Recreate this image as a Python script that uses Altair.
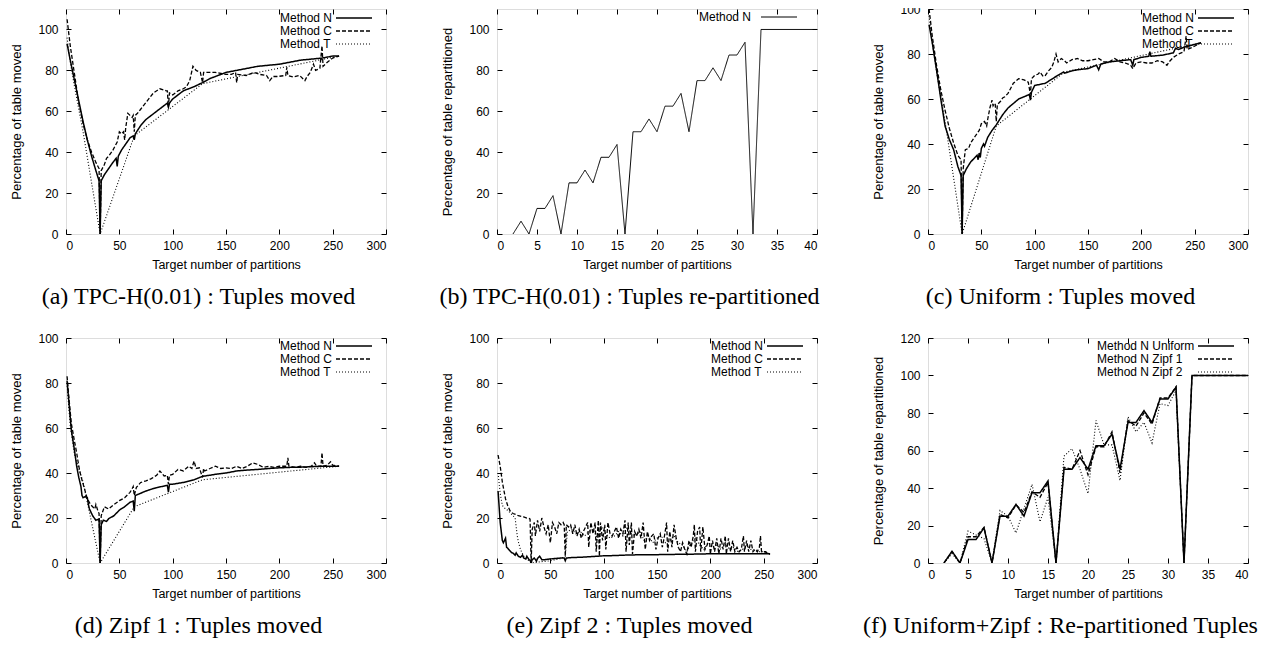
import altair as alt
import pandas as pd

# ---------------- data ----------------
# (a) TPC-H(0.01) : Tuples moved
A_N = [(1,93),(4,85),(8,75),(12,65),(16,55),(20,46),(24,38),(28,31),(31,26),(32,0),(33,26),
       (36,29),(40,32),(44,35),(47,37),(48,33),(49,38),(52,41),(56,44),(60,47),(63,48),(64,46),
       (65,49),(70,53),(75,56),(80,58),(85,60),(90,62),(95,64),(96,62),(97,64),(100,66),(105,68),
       (110,70),(115,71),(120,72),(128,74),(135,76),(140,77),(150,79),(160,80),(170,81),(180,82),
       (190,82.5),(200,83),(210,84),(220,85),(230,85.5),(240,86),(250,87),(256,87)]
A_C = [(1,105),(4,92),(8,78),(12,64),(16,54),(20,46),(24,40),(28,35),(31,32),(32,0),(33,31),
       (36,34),(38,37),(40,38),(44,41),(48,45),(50,50),(52,49),(54,50),(55,46),(56,52),(58,59),
       (60,58),(62,57),(63,58),(64,50),(65,58),(67,59),(70,61),(76,65),(82,69),(88,71),(94,70),
       (95,70),(96,62),(97,69),(100,68),(105,70),(110,71),(113,72),(116,75),(119,82),(122,80),
       (126,79),(128,74),(129,79),(135,79),(140,79),(150,78),(155,78),(159,79),(160,74),(161,78),
       (169,77.5),(176,79),(182,78),(188,77.5),(191,75),(194,77),(198,77),(206,77.5),(207,81.5),
       (208,77.5),(213,76.7),(219,77.5),(224,75),(226,77),(229,79),(232,83),(234,80),(238,81),
       (240,92),(241,82),(245,84),(250,86),(256,87)]
A_T = [(1,96),(2,92),(4,84),(8,72),(16,50),(32,0),(64,48),(128,73.5),(256,87)]

# (b) TPC-H(0.01) : Tuples re-partitioned
B_N = [(2,0),(3,6.25),(4,0),(5,12.5),(6,12.5),(7,18.75),(8,0),(9,25),(10,25),(11,31.25),(12,25),
       (13,37.5),(14,37.5),(15,43.75),(16,0),(17,50),(18,50),(19,56.25),(20,50),(21,62.5),(22,62.5),
       (23,68.75),(24,50),(25,75),(26,75),(27,81.25),(28,75),(29,87.5),(30,87.5),(31,93.75),(32,0),
       (33,100),(40,100)]

# (c) Uniform : Tuples moved
C_N = [(1,93),(4,85),(8,73),(12,60),(16,48),(20,42),(24,37.5),(28,30),(31,26),(32,0),(33,26),
       (36,29),(40,32),(44,34),(46,35),(47,33),(48,36),(49,34),(50,38),(52,40),(53,39),(56,43),
       (60,46),(64,48.5),(70,53),(75,56),(80,58),(85,60),(90,61),(95,62),(96,59.5),(97,63),
       (100,66),(105,66.5),(110,67),(115,68.5),(120,70),(127,72),(128,71.5),(135,72.5),(140,73),
       (150,73.5),(158,75),(160,73),(162,75.5),(170,76.5),(180,77),(190,77.5),(192,75),(193,77.5),
       (200,78.5),(207,79),(208,81),(209,79),(220,79.5),(230,80.5),(232,82.5),(235,82),(240,83),
       (248,84),(256,85)]
C_C = [(1,100),(4,88),(8,75),(12,64),(16,55),(20,47),(24,40.5),(28,35),(31,33),(32,0),(33,29),
       (35,37.5),(38,38),(40,40.5),(45,44),(48,46),(50,49),(53,50),(55,48),(56,51),(58,56),
       (60,59.5),(61,57),(62,58),(63,58),(64,50),(65,57.5),(68,59),(70,60.5),(72,61),(75,62.5),
       (80,67),(85,69),(90,68.5),(94,67.5),(96,62),(97,69),(100,70.5),(103,71),(105,72),(108,70),
       (110,70.5),(113,72.5),(116,74),(118,76.5),(120,80),(122,76.5),(125,78),(128,77),(130,76),
       (135,77.5),(140,78),(145,77),(150,77),(155,77.5),(160,78),(165,76.5),(170,76.5),(175,78),
       (180,76.5),(185,76),(190,75),(192,73.5),(195,76),(200,76.5),(205,76),(210,76),(215,77),
       (220,76.5),(224,75),(226,76.5),(230,78.5),(235,80),(240,81),(242,88),(243,82),(248,83),
       (252,84),(256,85)]
C_T = [(1,97),(4,85),(8,72),(16,50),(32,0),(64,48),(128,72),(256,85)]

# (d) Zipf 1 : Tuples moved
D_N = [(1,81),(3,70),(5,59),(8,50),(10,43),(12,38),(14,34),(15,30),(16,29),(18,29.5),(20,29),
       (21,26),(22,24),(25,21),(28,19),(31,19.5),(32,0),(33,17),(35,19),(38,18.5),(40,19.7),
       (45,21),(50,23.5),(55,25),(60,27),(63,27.5),(64,23),(65,30),(70,31),(75,32),(80,32.8),
       (85,33.5),(90,34),(95,34.5),(96,31.5),(97,35),(100,35),(110,35.8),(120,37),(128,38.5),
       (140,39.4),(150,40),(160,40.9),(170,41.3),(180,41.6),(190,42),(200,42.3),(210,42.5),
       (220,42.6),(230,42.8),(240,43),(256,43)]
D_C = [(1,83),(3,72),(5,62),(8,54),(10,49),(12,43),(14,38.5),(17,33.5),(20,28.5),(23,26),(25,25),
       (27,24),(28,26),(30,23),(31,22),(32,0),(33,21),(36,25),(40,24),(45,26),(50,27.7),(55,29),
       (60,31.4),(62,33),(63,34),(64,30),(66,33.6),(70,35.8),(75,36.5),(80,37.5),(85,39),(88,40.9),
       (92,38.7),(95,39),(96,35),(97,39),(100,39.4),(105,41.6),(110,40.9),(115,43),(118,42),
       (120,45.3),(122,42),(125,42.3),(128,38),(129,42),(130,40.9),(135,42),(140,43),(145,42),
       (150,42.3),(155,42),(160,43),(165,42),(170,43),(175,44.5),(180,43.8),(185,42.5),(190,43),
       (195,42.5),(200,43),(207,43),(208,46.7),(209,43),(215,42.5),(220,43),(225,42.5),(230,43),
       (233,44.5),(235,43),(239,43),(240,49),(241,43),(245,43.5),(248,45),(250,43.5),(256,43)]
D_T = [(1,80),(2,73),(4,61),(8,48),(16,36),(32,0),(64,25),(128,37),(256,43)]

# (e) Zipf 2 : Tuples moved
E_N = [(1,32),(2,25),(3,18),(4,14),(5,10),(6,9),(7,10),(8,11),(9,7),(10,6.6),(12,5.5),
       (14,4.5),(15,4.4),(17,3.5),(18,4.5),(20,3),(22,2.5),(24,3.5),(25,2.2),(27,1.8),(28,3),
       (30,1.5),(31,1.2),(32,0),(33,1.5),(35,2.2),(37,0.8),(38,2),(40,3),(42,1.5),(45,1.5),
       (50,1.8),(60,2.2),(63,2.2),(64,1),(65,2.2),(70,2.4),(80,2.6),(90,2.9),(100,3.2),(110,3.3),
       (120,3.5),(128,3.6),(140,3.7),(150,3.7),(160,3.8),(180,3.9),(200,4.1),(220,4.1),(240,4.1),
       (256,4.1)]
E_C = [(1,48),(3,43),(5,36),(8,28.5),(10,25.6),(12,23.4),(15,22),(18,21.5),(20,21),(25,20.5),
       (28,20),(30,19.8),(31,19.5),(32,0),(33,15),(35,18),
       (36,12),(38,19),(40,14),(42,20),(44,16),(46,13),(48,17),(50,9),(52,18),(54,16),(56,13),
       (58,18),(60,17),(62,18),(63,17),(64,3),(65,17),(67,16),(69,17),(71,13),(73,17),(75,12),
       (77,15),(79,11),(81,14),(83,16),(85,18),(86,7),(88,18),(90,13),(92,18),(93,5),(95,19),
       (96,3),(97,18),(99,10),(101,17),(102,6),(104,18),(106,13),(108,12),(110,14),(112,16),
       (114,11),(116,15),(118,13),(120,19),(121,5),(123,18),(124,8),(126,18),(127,4),(129,14),
       (131,12),(133,15),(135,11),(137,18),(139,6),(141,14),(143,10),(145,12),(147,13),(149,6),
       (151,11),(153,13),(155,7),(157,12),(159,18),(160,5),(162,14),(164,7),(166,17),(168,11),
       (170,7),(172,5),(174,9),(176,6),(178,4),(180,10),(182,7),(184,12),(185,17),(186,5),
       (188,14),(190,16),(191,5),(193,16),(195,6),(197,8),(199,12),(200,4),(202,10),(204,5),
       (206,11),(208,4),(210,11),(212,6),(214,12),(215,4),(217,11),(219,5),(221,10),(223,5),
       (225,7),(227,5),(229,6),(231,12),(232,5),(234,10),(236,5),(238,10),(240,5),(242,6),
       (244,5),(246,7),(247,12),(248,5),(250,5),(252,5),(254,4),(256,4)]
E_T = [(1,40),(3,31),(5,25.6),(8,24),(10,23.4),(12,22.5),(15,21),(17,20),(18,16),(19,12),
       (20,9.5),(22,6),(25,3),(28,1.5),(30,1),(32,0),(40,0.5),(50,1),(60,2),(64,3),(66,14),(70,15),
       (74,13),(78,14),(82,12),(86,14),(90,15),(94,11),(98,16),(102,13),(106,11),(110,12),
       (114,14),(118,12),(122,16),(126,13),(130,12),(134,14),(138,10),(142,12),(146,9),(150,11),
       (154,12),(158,9),(162,10),(166,12),(170,9),(174,8),(178,5),(182,9),(186,11),(190,8),
       (194,6),(198,9),(202,7),(206,8),(210,6),(214,9),(218,6),(222,7),(226,5),(230,6),(234,8),
       (238,6),(242,6),(246,5),(250,5),(256,4)]

# (f) Uniform+Zipf : Re-partitioned Tuples
F_U = B_N
F_Z1 = [(2,0),(3,6),(4,0),(5,14),(6,14),(7,19),(8,0),(9,26),(10,24),(11,31),(12,27),(13,38),
        (14,35),(15,43),(16,0),(17,51),(18,50),(19,60),(20,47),(21,62),(22,62),(23,70),(24,48),
        (25,76),(26,73),(27,80),(28,74),(29,88),(30,88),(31,94),(32,0),(33,100),(40,100)]
F_Z2 = [(2,0),(3,5),(4,0),(5,17),(6,15),(7,13),(8,0),(9,28),(10,25),(11,16),(12,29),(13,42),
        (14,22),(15,35),(16,0),(17,57),(18,61),(19,50),(20,37),(21,76),(22,63),(23,63),(24,44),
        (25,78),(26,70),(27,75),(28,64),(29,85),(30,84),(31,92),(32,0),(33,100),(40,100)]

NCT = ["Method N", "Method C", "Method T"]
FNAMES = ["Method N Uniform", "Method N Zipf 1", "Method N Zipf 2"]
CAPTIONS = ["(a) TPC-H(0.01) : Tuples moved", "(b) TPC-H(0.01) : Tuples re-partitioned",
            "(c) Uniform : Tuples moved", "(d) Zipf 1 : Tuples moved",
            "(e) Zipf 2 : Tuples moved", "(f) Uniform+Zipf : Re-partitioned Tuples"]
XTITLE = "Target number of partitions"
YT_MOVED = "Percentage of table moved"
YT_REP = "Percentage of table repartitioned"

# ---------------- styling ----------------
W, H = 320, 225
SANS = "Liberation Sans"
SERIF = "Liberation Serif"
DASHES = [[1, 0], [4, 2], [1, 2]]
WIDTHS = [1.5, 1.1, 1.1]
SAMPLE = 36  # legend sample length


def table(names, series):
    rows = []
    for name, pts in zip(names, series):
        for x, y in pts:
            rows.append({"series": name, "x": x, "y": y})
    return pd.DataFrame(rows)


def panel(names, series, xmax, xstep, ymax, ytop, ytitle, caption, label_w, ly):
    df = table(names, series)
    n = len(names)
    # gnuplot style key: text first, line sample to its right
    a = label_w + 10
    sym_path = f"M {a} 0 L {a + SAMPLE} 0"
    legend = alt.Legend(
        title=None, orient="none", direction="vertical",
        legendX=W - 14 - (label_w + 16 + SAMPLE), legendY=ly,
        symbolType=sym_path, symbolSize=4, symbolStrokeColor="black",
        symbolStrokeWidth=1.1, symbolFillColor="transparent", labelOffset=0,
        labelFont=SANS, labelFontSize=12, labelColor="black", labelLimit=300,
        rowPadding=1,
    )
    xaxis = alt.Axis(
        values=list(range(0, xmax + 1, xstep)), title=XTITLE, grid=True,
        gridColor="black", gridOpacity=1, gridWidth=1, gridDash=[5, H - 10, 5, 3000],
        ticks=False, domain=False, labelFont=SANS, labelFontSize=12, labelColor="black",
        labelPadding=6, titleFont=SANS, titleFontSize=12.5, titleFontWeight="normal",
        titleColor="black", titlePadding=7,
    )
    yaxis = alt.Axis(
        values=list(range(0, ytop + 1, 20)), title=ytitle, grid=True,
        gridColor="black", gridOpacity=1, gridWidth=1, gridDash=[5, W - 10, 5, 3000],
        ticks=False, domain=False, labelFont=SANS, labelFontSize=12, labelColor="black",
        labelPadding=8, titleFont=SANS, titleFontSize=13, titleFontWeight="normal",
        titleColor="black", titlePadding=14,
    )
    return alt.Chart(df).mark_line(color="black", clip=True).encode(
        x=alt.X("x:Q", scale=alt.Scale(domain=[0, xmax], nice=False, zero=False), axis=xaxis),
        y=alt.Y("y:Q", scale=alt.Scale(domain=[0, ymax], nice=False, zero=False), axis=yaxis),
        strokeDash=alt.StrokeDash("series:N", scale=alt.Scale(domain=names, range=DASHES[:n]),
                                  legend=legend),
        strokeWidth=alt.StrokeWidth("series:N", scale=alt.Scale(domain=names, range=WIDTHS[:n]),
                                    legend=None),
    ).properties(
        width=W, height=H,
        title=alt.TitleParams(caption, orient="bottom", anchor="middle", frame="bounds",
                              font=SERIF, fontSize=24, fontWeight="normal", color="black",
                              offset=14),
    )


pa = panel(NCT, [A_N, A_C, A_T], 300, 50, 110, 100, YT_MOVED, CAPTIONS[0], 52, 3)
pb = panel(["Method N"], [B_N], 40, 5, 110, 100, YT_REP, CAPTIONS[1], 52, 8)
pc = panel(NCT, [C_N, C_C, C_T], 300, 50, 100, 100, YT_MOVED, CAPTIONS[2], 52, 3)
pd_ = panel(NCT, [D_N, D_C, D_T], 300, 50, 100, 100, YT_MOVED, CAPTIONS[3], 52, 2)
pe = panel(NCT, [E_N, E_C, E_T], 300, 50, 100, 100, YT_MOVED, CAPTIONS[4], 52, 2)
pf = panel(FNAMES, [F_U, F_Z1, F_Z2], 40, 5, 120, 120, YT_REP, CAPTIONS[5], 97, 2)

chart = alt.concat(
    pa, pb, pc, pd_, pe, pf, columns=3, spacing={"row": 104, "column": 111}, bounds="flush",
).resolve_scale(
    strokeDash="independent", strokeWidth="independent",
).resolve_legend(
    strokeDash="independent", strokeWidth="independent",
).properties(
    padding={"left": 2, "top": -6, "right": 0, "bottom": 0},
).configure_view(
    stroke="black", strokeWidth=1, fill="white",
).configure(background="white")

chart.save("out.html", embed_options={"renderer": "svg", "actions": False})
